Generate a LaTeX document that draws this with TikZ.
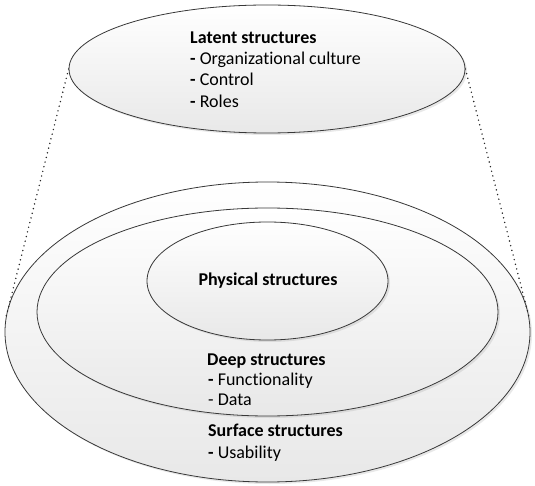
\documentclass[tikz,border=0pt]{standalone}
\usepackage{fontspec}
\setmainfont[Ligatures=NoCommon]{Carlito}
\usetikzlibrary{shapes.geometric,shadows}
\begin{document}
\begin{tikzpicture}[x=1pt,y=-1pt,
  layer/.style={ellipse, draw=black!78, line width=0.8pt, inner sep=0pt,
    top color=white, bottom color=black!9,
    drop shadow={opacity=0.18, shadow xshift=2pt, shadow yshift=-2pt}},
  itemtext/.style={anchor=base west, inner sep=0pt, font=\fontsize{18}{21.5}\selectfont},
  headtext/.style={itemtext, font=\fontsize{18}{21.5}\selectfont\bfseries},
  guide/.style={draw=black!85, line width=1.6pt, dash pattern=on 0pt off 4.8pt, line cap=round}]
\useasboundingbox (0,0) rectangle (535,486);

% detached layer at the top
\node[layer, minimum width=396pt, minimum height=128pt] (latent) at (267,69) {};

% nested layers
\node[layer, minimum width=525pt, minimum height=300pt] (surface) at (267.5,332) {};
\node[layer, minimum width=461pt, minimum height=208pt] (deep) at (267.5,312) {};
\node[layer, minimum width=241pt, minimum height=118pt] (physical) at (267.5,281) {};

% dotted guides linking the top layer to the stack
\draw[guide] (latent.west) -- (surface.177);
\draw[guide] (latent.east) -- (surface.3);

% labels
\node[headtext] (latentT) at (190,43.3) {Latent structures};
\node[itemtext] (latentA) at (190,64.5) {\textbf{-} Organizational culture};
\node[itemtext] (latentB) at (190,85.8) {\textbf{-} Control};
\node[itemtext] (latentC) at (190,107.2) {\textbf{-} Roles};

\node[headtext, anchor=base] (physicalT) at (268,285) {Physical structures};

\node[headtext] (deepT) at (207,365) {Deep structures};
\node[itemtext] (deepA) at (208,385.5) {\textbf{-} Functionality};
\node[itemtext] (deepB) at (208,405.5) {- Data};

\node[headtext] (surfaceT) at (208,436.7) {Surface structures};
\node[itemtext] (surfaceA) at (208,458) {\textbf{-} Usability};
\end{tikzpicture}
\end{document}
